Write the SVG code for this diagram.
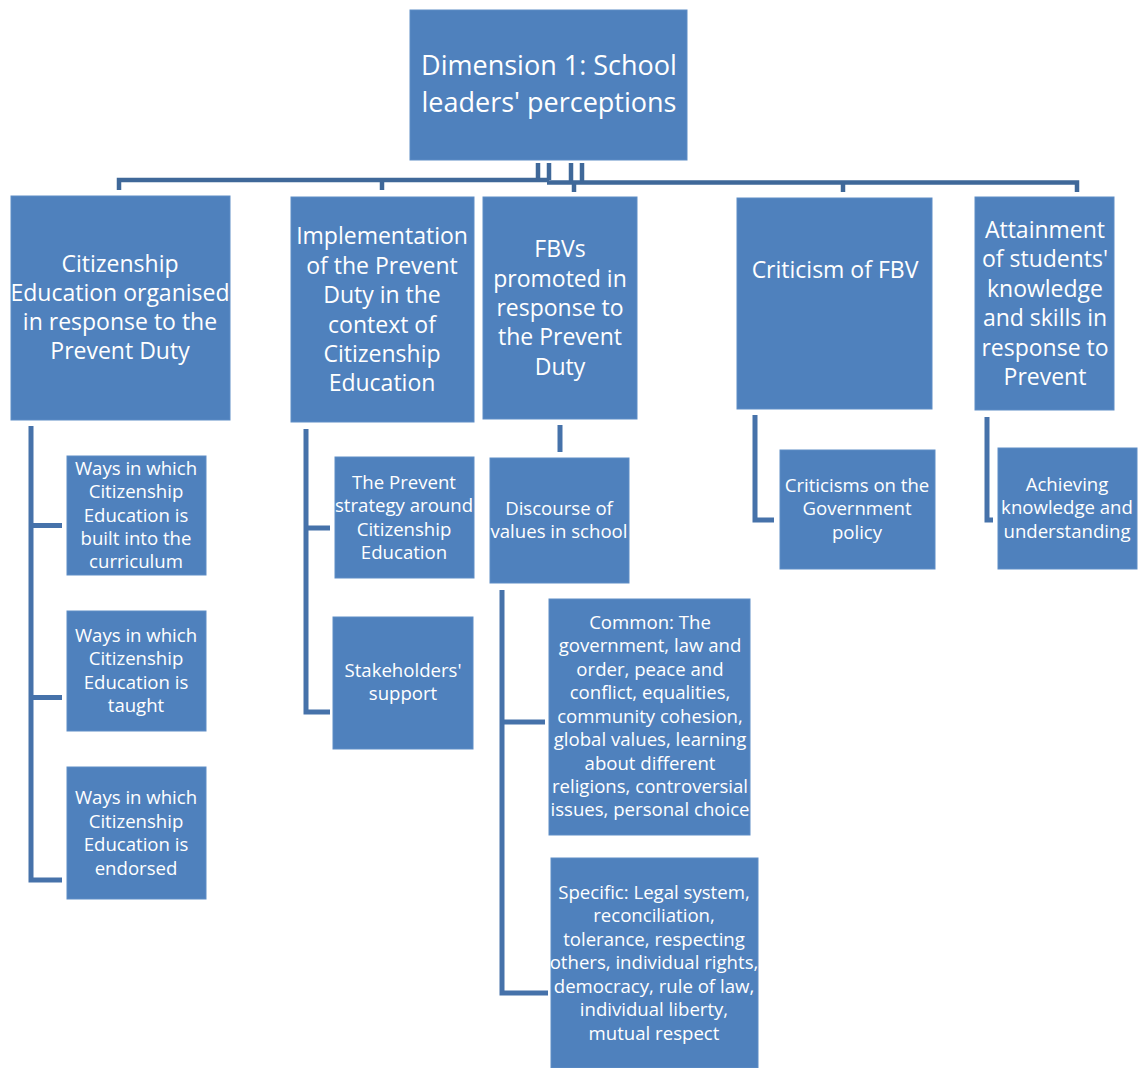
<svg xmlns="http://www.w3.org/2000/svg" width="1146" height="1068" viewBox="0 0 1146 1068">
  <style>
    .box { fill: #4F81BD; stroke: #5E8DC6; stroke-width: 1; }
    .lbl { font-family: "Open Sans", "Liberation Sans", sans-serif; fill: #FFFFFF; text-anchor: middle; }
    .root { font-size: 27px; }
    .top { font-size: 23px; }
    .sub { font-size: 18.6px; }
    .wire { fill: none; stroke: #4672AA; stroke-width: 5; }
    .wire-top { fill: none; stroke: #3F6899; stroke-width: 4.5; }
  </style>
  <rect width="1146" height="1068" fill="#FFFFFF"/>

  <!-- connectors -->
  <g id="connectors">
    <!-- root to first-level topics -->
    <path class="wire-top" d="M538 163 V180 M549 163 V180 M571 163 V182.5 M582 163 V182.5"/>
    <path class="wire-top" d="M119 190 V180 H549"/>
    <path class="wire-top" d="M382 190 V180"/>
    <path class="wire-top" d="M547 182.5 H1077 V192"/>
    <path class="wire-top" d="M574 182.5 V192"/>
    <path class="wire-top" d="M843 182.5 V192"/>
    <!-- Citizenship Education branch -->
    <path class="wire" d="M31 426 V880 H62 M31 525.5 H62 M31 697.5 H62"/>
    <!-- Implementation branch -->
    <path class="wire" d="M306 429 V712 H330 M306 528 H330"/>
    <!-- FBVs branch -->
    <path class="wire" d="M560 425 V452"/>
    <path class="wire" d="M502 590 V993 H548 M502 722 H545"/>
    <!-- Criticism branch -->
    <path class="wire" d="M755 415 V520 H774"/>
    <!-- Attainment branch -->
    <path class="wire" d="M987 417 V520 H993"/>
  </g>

  <!-- root -->
  <g id="node-root">
    <rect class="box" x="410" y="10" width="277" height="150"/>
    <text class="lbl root" x="549" y="75">Dimension 1: School</text>
    <text class="lbl root" x="549" y="112">leaders' perceptions</text>
  </g>

  <!-- first level -->
  <g id="node-citizenship">
    <rect class="box" x="11" y="196" width="219" height="224"/>
    <text class="lbl top" x="120" y="272">Citizenship</text>
    <text class="lbl top" x="120" y="301">Education organised</text>
    <text class="lbl top" x="120" y="330">in response to the</text>
    <text class="lbl top" x="120" y="359">Prevent Duty</text>
  </g>
  <g id="node-implementation">
    <rect class="box" x="291" y="197" width="183" height="225"/>
    <text class="lbl top" x="382" y="244">Implementation</text>
    <text class="lbl top" x="382" y="274">of the Prevent</text>
    <text class="lbl top" x="382" y="303">Duty in the</text>
    <text class="lbl top" x="382" y="333">context of</text>
    <text class="lbl top" x="382" y="362">Citizenship</text>
    <text class="lbl top" x="382" y="391">Education</text>
  </g>
  <g id="node-fbvs">
    <rect class="box" x="483" y="197" width="154" height="222"/>
    <text class="lbl top" x="560" y="257">FBVs</text>
    <text class="lbl top" x="560" y="287">promoted in</text>
    <text class="lbl top" x="560" y="316">response to</text>
    <text class="lbl top" x="560" y="345">the Prevent</text>
    <text class="lbl top" x="560" y="375">Duty</text>
  </g>
  <g id="node-criticism">
    <rect class="box" x="737" y="198" width="195" height="211"/>
    <text class="lbl top" x="835" y="278">Criticism of FBV</text>
  </g>
  <g id="node-attainment">
    <rect class="box" x="975" y="197" width="139" height="213"/>
    <text class="lbl top" x="1045" y="238">Attainment</text>
    <text class="lbl top" x="1045" y="267">of students'</text>
    <text class="lbl top" x="1045" y="297">knowledge</text>
    <text class="lbl top" x="1045" y="326">and skills in</text>
    <text class="lbl top" x="1045" y="356">response to</text>
    <text class="lbl top" x="1045" y="385">Prevent</text>
  </g>

  <!-- Citizenship Education children -->
  <g id="node-curriculum">
    <rect class="box" x="67" y="456" width="139" height="119"/>
    <text class="lbl sub" x="136" y="475">Ways in which</text>
    <text class="lbl sub" x="136" y="498">Citizenship</text>
    <text class="lbl sub" x="136" y="522">Education is</text>
    <text class="lbl sub" x="136" y="545">built into the</text>
    <text class="lbl sub" x="136" y="568">curriculum</text>
  </g>
  <g id="node-taught">
    <rect class="box" x="67" y="611" width="139" height="120"/>
    <text class="lbl sub" x="136" y="642">Ways in which</text>
    <text class="lbl sub" x="136" y="665">Citizenship</text>
    <text class="lbl sub" x="136" y="689">Education is</text>
    <text class="lbl sub" x="136" y="712">taught</text>
  </g>
  <g id="node-endorsed">
    <rect class="box" x="67" y="767" width="139" height="132"/>
    <text class="lbl sub" x="136" y="804">Ways in which</text>
    <text class="lbl sub" x="136" y="828">Citizenship</text>
    <text class="lbl sub" x="136" y="851">Education is</text>
    <text class="lbl sub" x="136" y="875">endorsed</text>
  </g>

  <!-- Implementation children -->
  <g id="node-strategy">
    <rect class="box" x="335" y="457" width="139" height="121"/>
    <text class="lbl sub" x="404" y="489">The Prevent</text>
    <text class="lbl sub" x="404" y="512">strategy around</text>
    <text class="lbl sub" x="404" y="536">Citizenship</text>
    <text class="lbl sub" x="404" y="559">Education</text>
  </g>
  <g id="node-stakeholders">
    <rect class="box" x="333" y="617" width="140" height="132"/>
    <text class="lbl sub" x="403" y="677">Stakeholders'</text>
    <text class="lbl sub" x="403" y="700">support</text>
  </g>

  <!-- FBVs children -->
  <g id="node-discourse">
    <rect class="box" x="490" y="458" width="139" height="125"/>
    <text class="lbl sub" x="559" y="515">Discourse of</text>
    <text class="lbl sub" x="559" y="538">values in school</text>
  </g>
  <g id="node-common">
    <rect class="box" x="549" y="599" width="201" height="236"/>
    <text class="lbl sub" x="650" y="629">Common: The</text>
    <text class="lbl sub" x="650" y="652">government, law and</text>
    <text class="lbl sub" x="650" y="676">order, peace and</text>
    <text class="lbl sub" x="650" y="699">conflict, equalities,</text>
    <text class="lbl sub" x="650" y="723">community cohesion,</text>
    <text class="lbl sub" x="650" y="746">global values, learning</text>
    <text class="lbl sub" x="650" y="770">about different</text>
    <text class="lbl sub" x="650" y="793">religions, controversial</text>
    <text class="lbl sub" x="650" y="816">issues, personal choice</text>
  </g>
  <g id="node-specific">
    <rect class="box" x="551" y="858" width="207" height="210"/>
    <text class="lbl sub" x="654" y="899">Specific: Legal system,</text>
    <text class="lbl sub" x="654" y="922">reconciliation,</text>
    <text class="lbl sub" x="654" y="946">tolerance, respecting</text>
    <text class="lbl sub" x="654" y="969">others, individual rights,</text>
    <text class="lbl sub" x="654" y="993">democracy, rule of law,</text>
    <text class="lbl sub" x="654" y="1016">individual liberty,</text>
    <text class="lbl sub" x="654" y="1040">mutual respect</text>
  </g>

  <!-- Criticism child -->
  <g id="node-govpolicy">
    <rect class="box" x="780" y="450" width="155" height="119"/>
    <text class="lbl sub" x="857" y="492">Criticisms on the</text>
    <text class="lbl sub" x="857" y="515">Government</text>
    <text class="lbl sub" x="857" y="539">policy</text>
  </g>

  <!-- Attainment child -->
  <g id="node-achieving">
    <rect class="box" x="998" y="448" width="139" height="121"/>
    <text class="lbl sub" x="1067" y="491">Achieving</text>
    <text class="lbl sub" x="1067" y="514">knowledge and</text>
    <text class="lbl sub" x="1067" y="538">understanding</text>
  </g>
</svg>
